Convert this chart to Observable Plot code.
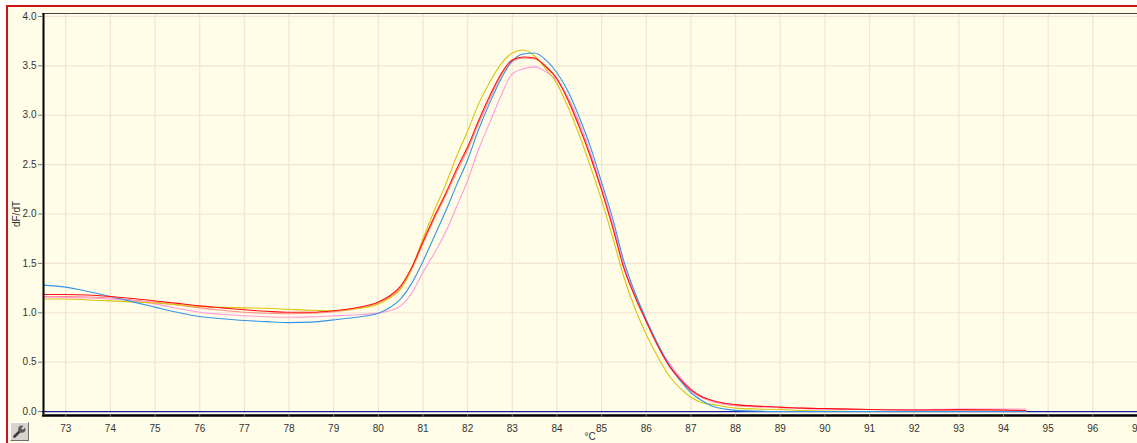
<!DOCTYPE html>
<html><head><meta charset="utf-8">
<script src="https://cdn.jsdelivr.net/npm/d3@7"></script>
<script src="https://cdn.jsdelivr.net/npm/@observablehq/plot@0.6"></script>
<style>
html,body{margin:0;padding:0;background:#fff;}
#wrap{position:relative;width:1137px;height:443px;overflow:hidden;}
#frame{position:absolute;left:6px;top:5px;width:1200px;height:500px;border-left:2px solid #cc1414;border-top:2px solid #cc1414;background:#fffde8;}
#chart{position:absolute;left:0;top:0;}
#btn{position:absolute;left:10px;top:422px;width:19px;height:19px;background:#d8d4cc;border:1px solid;border-color:#fff #6e6e6e #6e6e6e #fff;box-sizing:border-box;}
#btn svg{position:absolute;left:1px;top:1px;}
</style></head><body>
<div id="wrap"><div id="frame"></div><div id="chart"></div>
<div id="btn"><svg width="15" height="15" viewBox="0 0 15 15"><path d="M2.5 12.5 L8 7" stroke="#3a3a3a" stroke-width="2.6" stroke-linecap="round"/><circle cx="9.8" cy="5.2" r="3.6" fill="#5a5a5a"/><path d="M10 5 L14 1" stroke="#d8d4cc" stroke-width="2.4"/></svg></div>
</div>
<script>
// Melt curve data (temperature °C, dF/dT)
const temps = [72.5, 73, 73.5, 74, 74.5, 75, 75.5, 76, 76.5, 77, 77.5, 78, 78.5, 79, 79.5, 80,
  80.25, 80.5, 80.75, 81, 81.25, 81.5, 81.75, 82, 82.25, 82.5, 82.75, 83, 83.25, 83.5, 83.75, 84,
  84.25, 84.5, 84.75, 85, 85.25, 85.5, 85.75, 86, 86.25, 86.5, 86.75, 87, 87.25, 87.5,
  88, 88.5, 89, 89.5, 90, 91, 92, 93, 94, 94.5];

const wellBlue = [1.28, 1.26, 1.215, 1.165, 1.11, 1.057, 1.005, 0.962, 0.94, 0.922, 0.91, 0.90, 0.905, 0.928, 0.955, 0.995,
  1.05, 1.14, 1.30, 1.52, 1.77, 2.02, 2.29, 2.55, 2.86, 3.13, 3.37, 3.55, 3.62, 3.63, 3.56, 3.43,
  3.24, 2.98, 2.68, 2.32, 1.95, 1.52, 1.20, 0.93, 0.69, 0.48, 0.32, 0.19, 0.11, 0.05,
  0.012, 0.004, 0, 0, 0, 0, 0, 0, 0, 0];

const wellRed = [1.185, 1.185, 1.18, 1.165, 1.145, 1.12, 1.095, 1.07, 1.05, 1.03, 1.015, 1.005, 1.005, 1.02, 1.05, 1.11,
  1.17, 1.27, 1.46, 1.72, 1.97, 2.20, 2.45, 2.68, 2.95, 3.20, 3.42, 3.56, 3.59, 3.58, 3.49, 3.37,
  3.15, 2.88, 2.58, 2.24, 1.86, 1.45, 1.16, 0.91, 0.67, 0.47, 0.33, 0.22, 0.15, 0.11,
  0.07, 0.055, 0.045, 0.035, 0.03, 0.02, 0.015, 0.02, 0.015, 0.01];

const wellSalmon = [1.165, 1.165, 1.16, 1.15, 1.13, 1.105, 1.08, 1.05, 1.025, 1.005, 0.995, 0.99, 0.995, 1.01, 1.04, 1.10,
  1.16, 1.25, 1.44, 1.70, 1.95, 2.18, 2.42, 2.65, 2.92, 3.17, 3.40, 3.54, 3.58, 3.57, 3.50, 3.37,
  3.17, 2.90, 2.60, 2.26, 1.88, 1.46, 1.17, 0.92, 0.68, 0.48, 0.33, 0.21, 0.14, 0.10,
  0.06, 0.05, 0.04, 0.035, 0.03, 0.02, 0.015, 0.01, 0.01, 0.01];

const wellYellow = [1.14, 1.14, 1.13, 1.12, 1.11, 1.10, 1.08, 1.063, 1.055, 1.05, 1.045, 1.035, 1.025, 1.02, 1.04, 1.09,
  1.15, 1.24, 1.45, 1.75, 2.03, 2.29, 2.58, 2.84, 3.12, 3.34, 3.52, 3.63, 3.66, 3.60, 3.47, 3.32,
  3.08, 2.80, 2.48, 2.14, 1.76, 1.36, 1.04, 0.78, 0.56, 0.37, 0.24, 0.145, 0.09, 0.07,
  0.035, 0.025, 0.02, 0.01, 0.005, 0, 0, 0, 0, 0];

const wellPink = [1.16, 1.155, 1.15, 1.14, 1.12, 1.09, 1.045, 1.005, 0.985, 0.97, 0.96, 0.955, 0.958, 0.97, 0.98, 0.996,
  1.02, 1.07, 1.20, 1.41, 1.60, 1.81, 2.07, 2.34, 2.66, 2.93, 3.20, 3.42, 3.47, 3.49, 3.44, 3.35,
  3.18, 2.93, 2.62, 2.27, 1.90, 1.48, 1.19, 0.93, 0.69, 0.50, 0.35, 0.23, 0.15, 0.10,
  0.065, 0.05, 0.04, 0.03, 0.022, 0.02, 0.02, 0.025, 0.025, 0.025];

const seriesNames = ["Well A", "Well B", "Well C", "Well D", "Well E"];
const seriesValues = [wellSalmon, wellPink, wellYellow, wellBlue, wellRed];
const seriesColors = ["#ff8c8c", "#ff99dd", "#d6c60e", "#3296e6", "#ff1010"];

const xTicks = d3.range(73, 98);
const yTicks = [0, 0.5, 1, 1.5, 2, 2.5, 3, 3.5, 4];
const xDomain = [72.48, 97.0];
const yDomain = [-0.03, 4.03];

const rows = [];
seriesNames.forEach((s, i) => temps.forEach((t, j) => rows.push({s, t, v: seriesValues[i][j]})));

const chart = Plot.plot({
  width: 1137, height: 443,
  marginLeft: 42, marginRight: 0, marginTop: 13, marginBottom: 29,
  style: {background: "transparent", fontFamily: "'Liberation Sans', Arial, sans-serif", fontSize: "10px", color: "#333"},
  x: {domain: xDomain},
  y: {domain: yDomain},
  color: {type: "ordinal", domain: seriesNames, range: seriesColors},
  marks: [
    Plot.gridX(xTicks, {stroke: "#f2e4d0", strokeOpacity: 1, strokeWidth: 1.2}),
    Plot.gridY(yTicks.filter(d => d > 0), {stroke: "#f2e4d0", strokeOpacity: 1, strokeWidth: 1.2}),
    Plot.ruleY([0], {stroke: "#1c1ca8", strokeWidth: 1.2}),
    Plot.line(rows, {x: "t", y: "v", z: "s", stroke: "s", strokeWidth: 1.1, curve: "monotone-x"}),
    Plot.ruleY([yDomain[1]], {stroke: "#444", strokeWidth: 1}),
    Plot.ruleY([yDomain[0]], {stroke: "#000", strokeWidth: 2.5, dy: 1}),
    Plot.ruleX([xDomain[0]], {stroke: "#000", strokeWidth: 2, dx: 1}),
    Plot.axisX(xTicks, {tickSize: 3, tickPadding: 7, tickFormat: d => d, stroke: "#777", label: "°C", labelAnchor: "center", labelOffset: 25, labelArrow: "none"}),
    Plot.axisY(yTicks, {tickSize: 4, tickPadding: 2, tickFormat: d3.format(".1f"), stroke: "#777", label: "dF/dT", labelAnchor: "center", labelOffset: 30, labelArrow: "none"})
  ]
});
document.getElementById("chart").appendChild(chart);
</script>
</body></html>
